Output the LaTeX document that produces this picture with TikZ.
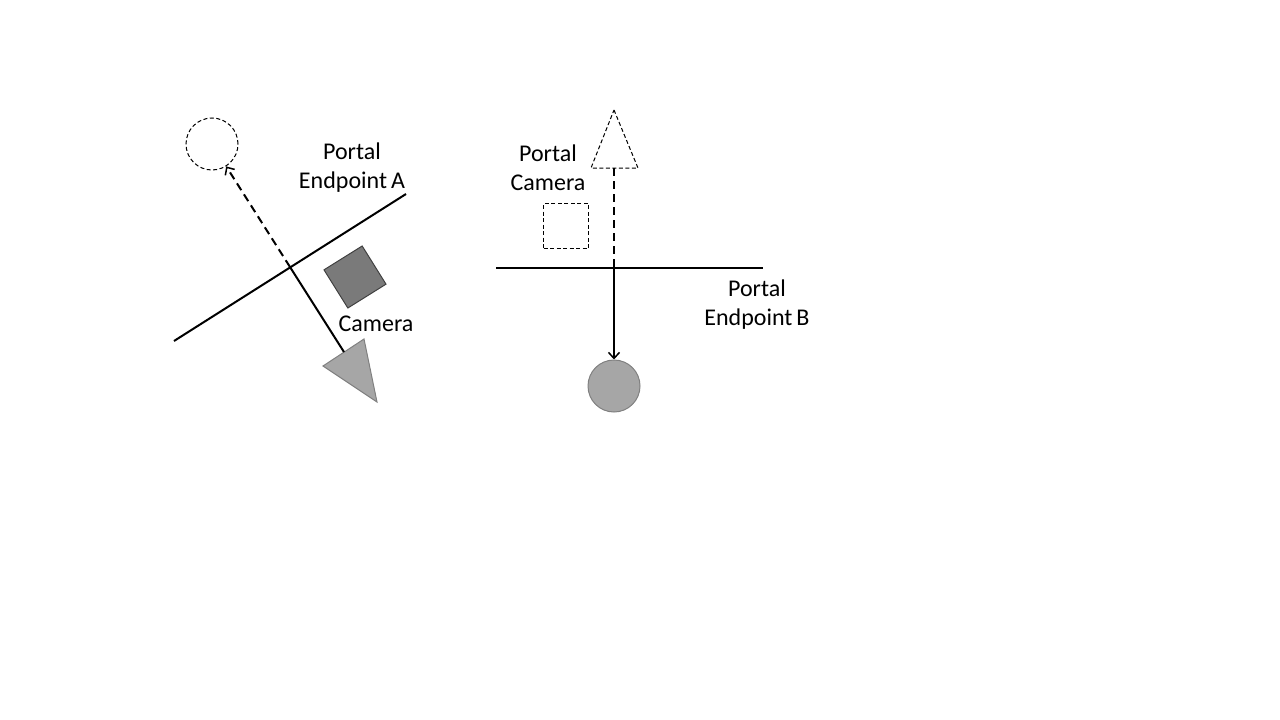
\documentclass[tikz,border=0pt]{standalone}
\usepackage{fontspec}
\setmainfont{Carlito}
\usetikzlibrary{positioning,arrows.meta}
\begin{document}
\begin{tikzpicture}[x=1pt,y=-1pt,
  >={Straight Barb[length=6pt,width=11pt,line width=1.5pt]},
  label/.style={align=center, font=\fontsize{24}{29}\selectfont},
  ghost/.style={draw, line width=1pt, dash pattern=on 4pt off 2.5pt},
  solid obj/.style={fill=black!35, draw=black!50, line width=1pt},
  portal/.style={line width=2pt},
  longdash/.style={dash pattern=on 8pt off 5pt}]
  \useasboundingbox (0,0) rectangle (1280,720);

  % left side, portal A
  \draw[portal] (174,341) -- (406,194);

  \node[
  circle,
  ghost,
  minimum size=52pt,
  inner sep=0pt] (ghostA) at (212,144) {};

  \node[
  rectangle,
  fill=black!52,
  draw=black!75,
  line width=1pt,
  minimum size=45pt,
  rotate=32] (boxA) at (355,277) {};

  \draw[solid obj] (323,366) -- (364,339) -- (377,402) -- cycle;

  \coordinate (camA) at (344,352);
  \coordinate (crossA) at (290,267);

  \node[label] (portalA) at (352,168) {Portal\\Endpoint\,A};
  \node[label] (cameraA) at (376,324) {Camera};

  \draw[line width=2pt] (camA)--(crossA);
  \draw[->,line width=2pt,longdash] (crossA)--(ghostA);

  % right side, portal B
  \draw[portal] (496,268) -- (763,268);

  \draw[ghost] (614,110) -- (638,168) -- (591,168) -- cycle;

  \node[
  rectangle,
  ghost,
  minimum size=45pt,
  inner sep=0pt] (boxB) at (566,226) {};

  \node[
  circle,
  solid obj,
  minimum size=52pt,
  inner sep=0pt] (ballB) at (614,386) {};

  \coordinate (camB) at (614,168);
  \coordinate (crossB) at (614,268);

  \node[label] (portalcam) at (548,168) {Portal\\Camera};
  \node[label] (portalB) at (757,305) {Portal\\Endpoint\,B};

  \draw[line width=2pt,longdash] (camB)--(crossB);
  \draw[->,line width=2pt] (crossB)--(ballB);
\end{tikzpicture}
\end{document}
